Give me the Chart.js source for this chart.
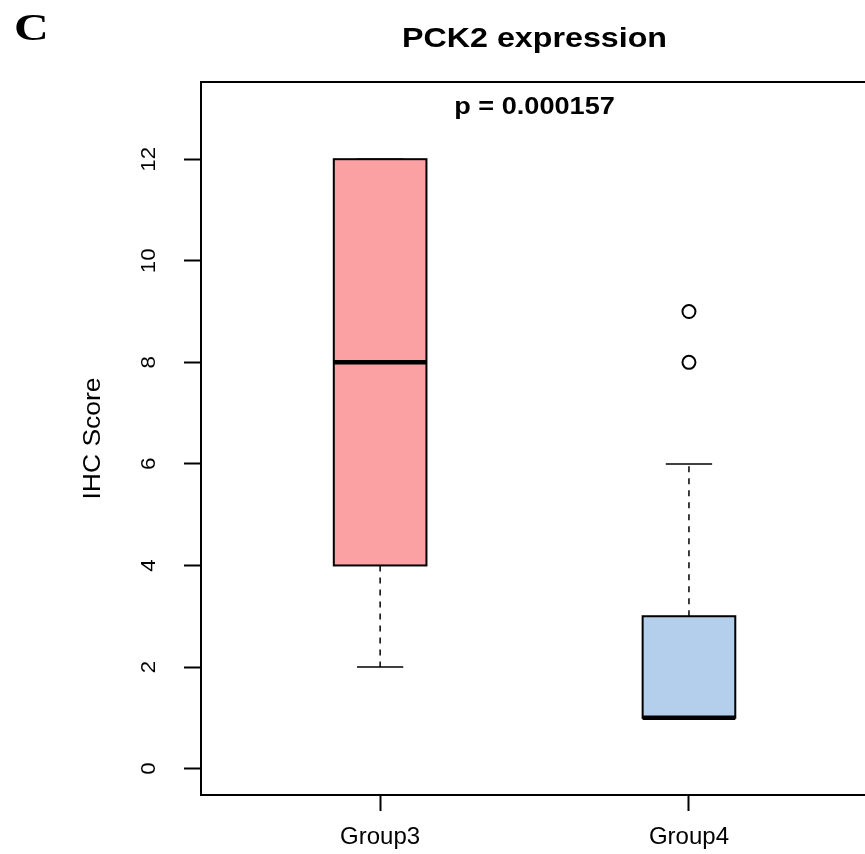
<!DOCTYPE html>
<html>
<head>
<meta charset="utf-8">
<title>PCK2 expression</title>
<script src="https://cdn.jsdelivr.net/npm/chart.js@4.4.1/dist/chart.umd.min.js"></script>
<style>
  html, body { margin: 0; padding: 0; background: #fff; overflow: hidden; }
  canvas { display: block; }
</style>
</head>
<body>
<canvas id="boxChart" width="865" height="854"></canvas>
<script>
// data
const categories = ['Group3', 'Group4'];
const lowerWhisker = [2, 1];
const q1 = [4, 1];
const medians = [8, 1];
const q3 = [12, 3];
const upperWhisker = [12, 6];
const outliers = [[], [8, 9]];
const yTicks = [0, 2, 4, 6, 8, 10, 12];

const panelLetter = 'C';
const chartTitle = 'PCK2 expression';
const pValueText = 'p = 0.000157';
const yAxisTitle = 'IHC Score';

const boxColors = ['rgb(251, 161, 164)', 'rgb(180, 207, 236)'];
const boxWidth = 0.3;
// R's plot region runs to 2.58, a little past the cropped right edge
const frameRight = 2.58;

const sansFont = '"Liberation Sans", Arial, Helvetica, sans-serif';
const serifFont = '"Liberation Serif", "Times New Roman", serif';

function drawText(ctx, text, x, y, options) {
  ctx.save();
  ctx.translate(x, y);
  if (options.rotate) ctx.rotate(options.rotate);
  ctx.scale(options.stretch || 1, 1);
  ctx.font = options.font;
  ctx.fillStyle = '#000';
  ctx.textAlign = options.align || 'center';
  ctx.textBaseline = 'alphabetic';
  ctx.fillText(text, 0, 0);
  ctx.restore();
}

function hLine(ctx, x1, x2, y) {
  ctx.beginPath();
  ctx.moveTo(x1, y);
  ctx.lineTo(x2, y);
  ctx.stroke();
}

// box, whiskers, staples and median for every group
const boxPlotPlugin = {
  id: 'boxPlot',
  beforeDatasetsDraw(chart) {
    const ctx = chart.ctx;
    const xScale = chart.scales.x;
    const yScale = chart.scales.y;

    categories.forEach((name, index) => {
      const center = index + 1;
      const xc = xScale.getPixelForValue(center);
      const xl = xScale.getPixelForValue(center - boxWidth / 2);
      const xr = xScale.getPixelForValue(center + boxWidth / 2);
      const sl = xScale.getPixelForValue(center - boxWidth / 4);
      const sr = xScale.getPixelForValue(center + boxWidth / 4);
      const yLow = yScale.getPixelForValue(lowerWhisker[index]);
      const yQ1 = yScale.getPixelForValue(q1[index]);
      const yMed = yScale.getPixelForValue(medians[index]);
      const yQ3 = yScale.getPixelForValue(q3[index]);
      const yHigh = yScale.getPixelForValue(upperWhisker[index]);

      ctx.save();
      ctx.strokeStyle = '#000';

      // whiskers
      ctx.lineWidth = 1.5;
      ctx.setLineDash([6, 6]);
      ctx.beginPath();
      ctx.moveTo(xc, yQ1);
      ctx.lineTo(xc, yLow);
      ctx.moveTo(xc, yQ3);
      ctx.lineTo(xc, yHigh);
      ctx.stroke();
      ctx.setLineDash([]);

      // staples
      hLine(ctx, sl, sr, yLow);
      hLine(ctx, sl, sr, yHigh);

      // box
      ctx.fillStyle = boxColors[index];
      ctx.fillRect(xl, yQ3, xr - xl, yQ1 - yQ3);
      ctx.lineWidth = 2;
      ctx.strokeRect(xl, yQ3, xr - xl, yQ1 - yQ3);

      // median
      ctx.lineWidth = 4.5;
      hLine(ctx, xl, xr, yMed);
      ctx.restore();
    });
  },
  afterDraw(chart) {
    const ctx = chart.ctx;
    const area = chart.chartArea;
    const xScale = chart.scales.x;
    const yScale = chart.scales.y;
    const right = xScale.getPixelForValue(frameRight);
    const midX = (area.left + right) / 2;

    // plot frame
    ctx.save();
    ctx.strokeStyle = '#000';
    ctx.lineWidth = 2;
    ctx.strokeRect(area.left, area.top, right - area.left, area.bottom - area.top);
    ctx.restore();

    // rotated y tick labels, like R's default axis
    yTicks.forEach((value) => {
      drawText(ctx, String(value), 155, yScale.getPixelForValue(value), {
        font: '20px ' + sansFont, rotate: -Math.PI / 2, stretch: 1.12
      });
    });

    drawText(ctx, yAxisTitle, 100, (area.top + area.bottom) / 2, {
      font: '23px ' + sansFont, rotate: -Math.PI / 2, stretch: 1.15
    });
    drawText(ctx, chartTitle, midX, 47, {
      font: 'bold 28px ' + sansFont, stretch: 1.15
    });
    drawText(ctx, pValueText, midX, 114, {
      font: 'bold 24px ' + sansFont, stretch: 1.13
    });
    drawText(ctx, panelLetter, 14, 40, {
      font: 'bold 37px ' + serifFont, stretch: 1.3, align: 'left'
    });
  }
};

const outlierPoints = outliers.flatMap((values, index) =>
  values.map((value) => ({ x: index + 1, y: value }))
);

new Chart(document.getElementById('boxChart'), {
  type: 'scatter',
  data: {
    datasets: [{
      label: 'Outliers',
      data: outlierPoints,
      pointRadius: 6.5,
      pointBorderWidth: 2,
      pointBorderColor: '#000',
      pointBackgroundColor: '#fff'
    }]
  },
  options: {
    responsive: false,
    animation: false,
    events: [],
    layout: {
      autoPadding: false,
      padding: { top: 82, right: 0, left: 0, bottom: 0 }
    },
    plugins: {
      legend: { display: false },
      tooltip: { enabled: false }
    },
    scales: {
      x: {
        type: 'linear',
        min: 0.42,
        max: 2.57,
        afterBuildTicks: (scale) => {
          scale.ticks = categories.map((name, index) => ({ value: index + 1 }));
        },
        afterFit: (scale) => {
          scale.height = 59;
          scale.paddingLeft = 0;
          scale.paddingRight = 0;
        },
        border: { display: false },
        grid: {
          drawOnChartArea: false,
          drawTicks: true,
          tickLength: 16,
          tickColor: '#000',
          tickWidth: 2
        },
        ticks: {
          padding: 12,
          color: '#000',
          font: { family: sansFont, size: 24 },
          maxRotation: 0,
          callback: (value) => categories[value - 1] || ''
        }
      },
      y: {
        type: 'linear',
        min: -0.52,
        max: 13.52,
        afterBuildTicks: (scale) => {
          scale.ticks = yTicks.map((value) => ({ value }));
        },
        afterFit: (scale) => {
          scale.width = 201;
          scale.paddingTop = 0;
          scale.paddingBottom = 0;
        },
        border: { display: false },
        grid: {
          drawOnChartArea: false,
          drawTicks: true,
          tickLength: 17,
          tickColor: '#000',
          tickWidth: 2
        },
        ticks: { display: false }
      }
    }
  },
  plugins: [boxPlotPlugin]
});
</script>
</body>
</html>
